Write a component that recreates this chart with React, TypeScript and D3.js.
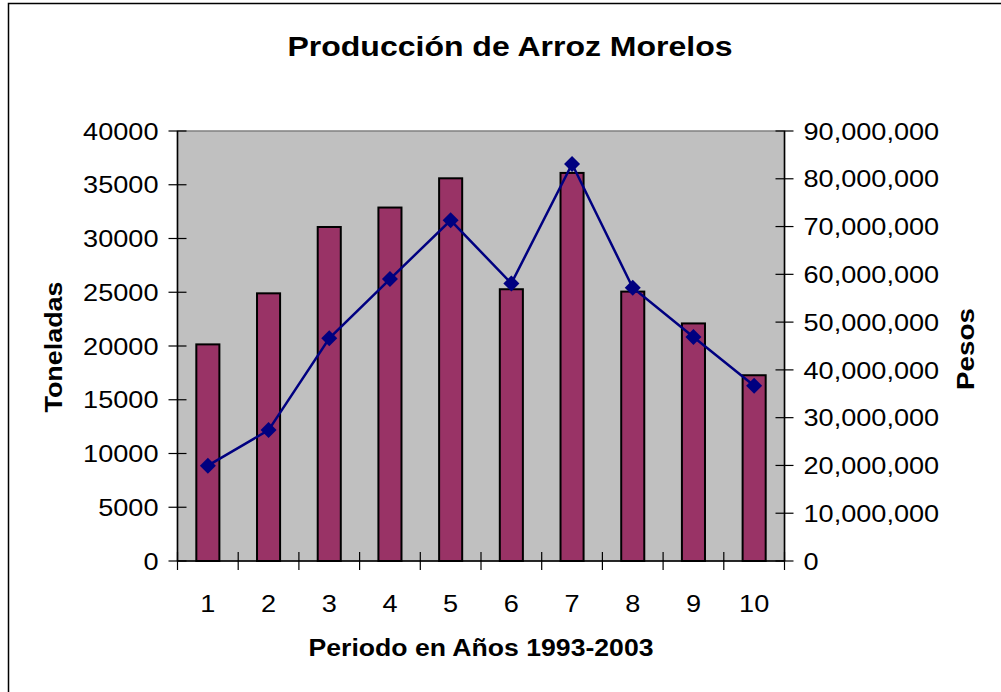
import React from 'react';
import { scaleBand, scaleLinear, line } from 'd3';

const periods = ['1', '2', '3', '4', '5', '6', '7', '8', '9', '10'];
const toneladas = [20150, 24900, 31070, 32880, 35600, 25280, 36100, 25060, 22100, 17280];
const pesos = [19950000, 27400000, 46600000, 59000000, 71300000, 58100000, 83100000, 57200000, 46900000, 36700000];
const leftTicks = [0, 5000, 10000, 15000, 20000, 25000, 30000, 35000, 40000];
const rightTicks = [0, 10000000, 20000000, 30000000, 40000000, 50000000, 60000000, 70000000, 80000000, 90000000];

const dims = {
  width: 1001,
  height: 692,
  left: 177.5,
  right: 784.5,
  top: 131,
  bottom: 561,
};

const font = '"Liberation Sans", Arial, sans-serif';
// the reference renders its text a little wider than Liberation Sans
const stretch = 1.13;

const fmt = (v: number) => v.toLocaleString('en-US');

const Label: React.FC<{ x: number; y: number; anchor: string; children: React.ReactNode }> = ({ x, y, anchor, children }) => (
  <g transform={`translate(${x},${y}) scale(${stretch},1)`}>
    <text dy="0.36em" textAnchor={anchor} fontSize={24}>
      {children}
    </text>
  </g>
);

const App: React.FC = () => {
  const x = scaleBand<string>()
    .domain(periods)
    .range([dims.left, dims.right]);
  const yLeft = scaleLinear().domain([0, 40000]).range([dims.bottom, dims.top]);
  const yRight = scaleLinear().domain([0, 90000000]).range([dims.bottom, dims.top]);

  const bw = x.bandwidth();
  const barW = bw * 0.38;
  const cx = (p: string) => (x(p) as number) + bw / 2;

  const pts = periods.map((p, i) => [cx(p), yRight(pesos[i])] as [number, number]);
  const pesosLine = line()(pts);

  const diamond = (px: number, py: number) => {
    const r = 8;
    return `M${px},${py - r}L${px + r},${py}L${px},${py + r}L${px - r},${py}Z`;
  };

  return (
    <svg
      width={dims.width}
      height={dims.height}
      style={{ position: 'absolute', left: 0, top: 0, background: '#fff' }}
      fontFamily={font}
    >
      {/* chart frame */}
      <rect x={8.5} y={3.5} width={1000} height={700} fill="#fff" stroke="#000" strokeWidth={1.5} />

      {/* plot area */}
      <rect
        x={dims.left}
        y={dims.top}
        width={dims.right - dims.left}
        height={dims.bottom - dims.top}
        fill="#C0C0C0"
        stroke="#808080"
        strokeWidth={1.5}
      />

      {/* bars */}
      {periods.map((p, i) => (
        <rect
          key={p}
          x={cx(p) - barW / 2}
          y={yLeft(toneladas[i])}
          width={barW}
          height={dims.bottom - yLeft(toneladas[i])}
          fill="#993366"
          stroke="#000"
          strokeWidth={2}
        />
      ))}

      {/* line */}
      <path d={pesosLine as string} fill="none" stroke="#000080" strokeWidth={2.5} />
      {pts.map(([px, py], i) => (
        <path key={i} d={diamond(px, py)} fill="#000080" />
      ))}

      {/* left axis */}
      <line x1={dims.left} x2={dims.left} y1={dims.top} y2={dims.bottom} stroke="#000" strokeWidth={1.5} />
      {leftTicks.map(t => (
        <g key={t}>
          <line x1={dims.left - 9} x2={dims.left + 9} y1={yLeft(t)} y2={yLeft(t)} stroke="#000" strokeWidth={1.2} />
          <Label x={dims.left - 19} y={yLeft(t)} anchor="end">{t}</Label>
        </g>
      ))}

      {/* right axis */}
      <line x1={dims.right} x2={dims.right} y1={dims.top} y2={dims.bottom} stroke="#000" strokeWidth={1.5} />
      {rightTicks.map(t => (
        <g key={t}>
          <line x1={dims.right - 9} x2={dims.right + 9} y1={yRight(t)} y2={yRight(t)} stroke="#000" strokeWidth={1.2} />
          <Label x={dims.right + 19} y={yRight(t)} anchor="start">{fmt(t)}</Label>
        </g>
      ))}

      {/* bottom axis */}
      <line x1={dims.left} x2={dims.right} y1={dims.bottom} y2={dims.bottom} stroke="#000" strokeWidth={1.5} />
      {[...periods.map(p => x(p) as number), dims.right].map((tx, i) => (
        <line key={i} x1={tx} x2={tx} y1={dims.bottom - 9} y2={dims.bottom + 9} stroke="#000" strokeWidth={1.2} />
      ))}
      {periods.map(p => (
        <Label key={p} x={cx(p)} y={603} anchor="middle">{p}</Label>
      ))}

      {/* titles */}
      <text x={510} y={46} dy="0.36em" textAnchor="middle" fontSize={28} fontWeight="bold"
        textLength={445} lengthAdjust="spacingAndGlyphs">
        Producción de Arroz Morelos
      </text>
      <text x={481} y={648} dy="0.36em" textAnchor="middle" fontSize={23} fontWeight="bold"
        textLength={345} lengthAdjust="spacingAndGlyphs">
        Periodo en Años 1993-2003
      </text>
      <text
        transform={`translate(54,347) rotate(-90)`}
        dy="0.36em"
        textAnchor="middle"
        fontSize={23}
        fontWeight="bold"
        textLength={131}
        lengthAdjust="spacingAndGlyphs"
      >
        Toneladas
      </text>
      <text
        transform={`translate(966,349) rotate(-90)`}
        dy="0.36em"
        textAnchor="middle"
        fontSize={23}
        fontWeight="bold"
        textLength={82}
        lengthAdjust="spacingAndGlyphs"
      >
        Pesos
      </text>
    </svg>
  );
};

export default App;
